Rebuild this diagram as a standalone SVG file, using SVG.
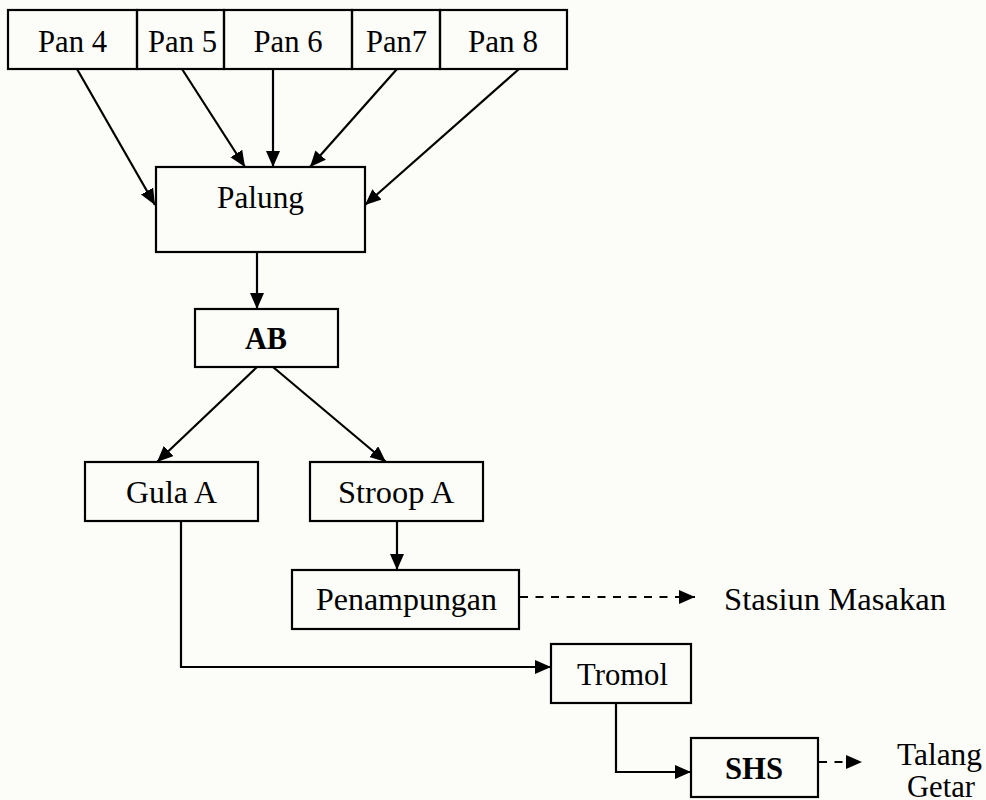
<svg xmlns="http://www.w3.org/2000/svg" width="986" height="800" viewBox="0 0 986 800">
  <style>
    .box { fill: none; stroke: #000; stroke-width: 2.2; }
    .lbl { font-family: "Liberation Serif", "Times New Roman", serif; font-size: 32px; fill: #000; text-anchor: middle; }
    .bold { font-weight: bold; }
    .free { text-anchor: start; }
    .edge { fill: none; stroke: #000; stroke-width: 2.2; marker-end: url(#head); }
    .dash { stroke-dasharray: 8 7.5; }
  </style>
  <defs>
    <marker id="head" markerUnits="userSpaceOnUse" markerWidth="17" markerHeight="15" refX="16" refY="7" orient="auto">
      <path d="M0,0 L16,7 L0,14 Z" fill="#000"/>
    </marker>
  </defs>

  <rect x="0" y="0" width="986" height="800" fill="#fcfdf8"/>

  <!-- top row of pans -->
  <g id="pan4">
    <rect class="box" x="8" y="10" width="129" height="59"/>
    <text class="lbl" x="72.5" y="52" textLength="69" lengthAdjust="spacingAndGlyphs">Pan 4</text>
  </g>
  <g id="pan5">
    <rect class="box" x="137" y="10" width="87" height="59"/>
    <text class="lbl" x="182.5" y="52" textLength="69" lengthAdjust="spacingAndGlyphs">Pan 5</text>
  </g>
  <g id="pan6">
    <rect class="box" x="224" y="10" width="128" height="59"/>
    <text class="lbl" x="288" y="52" textLength="69" lengthAdjust="spacingAndGlyphs">Pan 6</text>
  </g>
  <g id="pan7">
    <rect class="box" x="352" y="10" width="88" height="59"/>
    <text class="lbl" x="396.5" y="52" textLength="61" lengthAdjust="spacingAndGlyphs">Pan7</text>
  </g>
  <g id="pan8">
    <rect class="box" x="440" y="10" width="127" height="59"/>
    <text class="lbl" x="503" y="52" textLength="70" lengthAdjust="spacingAndGlyphs">Pan 8</text>
  </g>

  <g id="palung">
    <rect class="box" x="156" y="167" width="209" height="85"/>
    <text class="lbl" x="260.5" y="208" textLength="87" lengthAdjust="spacingAndGlyphs">Palung</text>
  </g>

  <g id="ab">
    <rect class="box" x="195" y="309" width="143" height="58"/>
    <text class="lbl bold" x="266" y="349" textLength="42" lengthAdjust="spacingAndGlyphs">AB</text>
  </g>

  <g id="gula-a">
    <rect class="box" x="85" y="462" width="173" height="59"/>
    <text class="lbl" x="171.5" y="503" textLength="91" lengthAdjust="spacingAndGlyphs">Gula A</text>
  </g>

  <g id="stroop-a">
    <rect class="box" x="310" y="462" width="173" height="59"/>
    <text class="lbl" x="396" y="503" textLength="116" lengthAdjust="spacingAndGlyphs">Stroop A</text>
  </g>

  <g id="penampungan">
    <rect class="box" x="292" y="570" width="227" height="59"/>
    <text class="lbl" x="406.5" y="610" textLength="181" lengthAdjust="spacingAndGlyphs">Penampungan</text>
  </g>

  <g id="stasiun-masakan">
    <text class="lbl free" x="724" y="610" textLength="222" lengthAdjust="spacingAndGlyphs">Stasiun Masakan</text>
  </g>

  <g id="tromol">
    <rect class="box" x="551" y="644" width="140" height="59"/>
    <text class="lbl" x="622.5" y="685" textLength="91" lengthAdjust="spacingAndGlyphs">Tromol</text>
  </g>

  <g id="shs">
    <rect class="box" x="691" y="738" width="127" height="59"/>
    <text class="lbl bold" x="754" y="779" textLength="58" lengthAdjust="spacingAndGlyphs">SHS</text>
  </g>

  <g id="talang-getar">
    <text class="lbl" x="939.5" y="765" textLength="85" lengthAdjust="spacingAndGlyphs">Talang</text>
    <text class="lbl" x="941" y="797" textLength="68" lengthAdjust="spacingAndGlyphs">Getar</text>
  </g>

  <!-- connectors -->
  <g id="connectors">
    <path class="edge" d="M77,69 L155,205"/>
    <path class="edge" d="M182,69 L245,167"/>
    <path class="edge" d="M273,69 L273,167"/>
    <path class="edge" d="M397,69 L310,167"/>
    <path class="edge" d="M519,69 L365,205"/>
    <path class="edge" d="M257,252 L257,309"/>
    <path class="edge" d="M257,367 L157,462"/>
    <path class="edge" d="M273,367 L386,462"/>
    <path class="edge" d="M397,521 L397,570"/>
    <path class="edge dash" d="M520,597 L695,597"/>
    <path class="edge" d="M181,521 L181,667 L551,667"/>
    <path class="edge" d="M616,703 L616,772 L691,772"/>
    <path class="edge dash" d="M819,762 L862,762"/>
  </g>
</svg>
